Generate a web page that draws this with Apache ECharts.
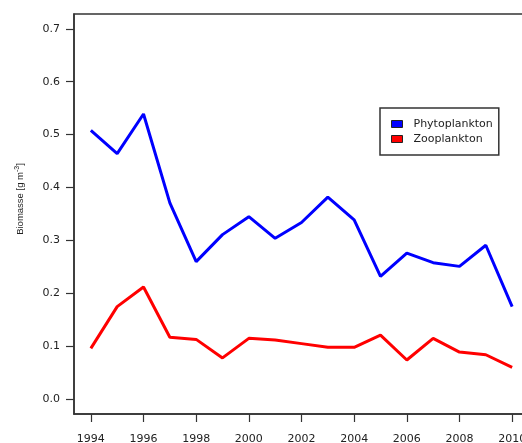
<!DOCTYPE html>
<html>
<head>
<meta charset="utf-8">
<script src="https://cdn.jsdelivr.net/npm/echarts@6/dist/echarts.min.js"></script>
<style>
  html, body { margin: 0; padding: 0; background: #fff; }
  #chart { width: 522px; height: 443px; }
</style>
</head>
<body>
<div id="chart"></div>
<script>
var years = [1994, 1995, 1996, 1997, 1998, 1999, 2000, 2001, 2002, 2003, 2004, 2005, 2006, 2007, 2008, 2009, 2010];
var phyto = [0.508, 0.464, 0.539, 0.371, 0.260, 0.311, 0.345, 0.304, 0.334, 0.382, 0.339, 0.232, 0.276, 0.258, 0.251, 0.291, 0.175];
var zoo = [0.096, 0.175, 0.212, 0.117, 0.113, 0.078, 0.115, 0.112, 0.105, 0.098, 0.098, 0.121, 0.074, 0.115, 0.089, 0.084, 0.060];
var xTicks = [1994, 1996, 1998, 2000, 2002, 2004, 2006, 2008, 2010];
var yTicks = [0, 0.1, 0.2, 0.3, 0.4, 0.5, 0.6, 0.7];

var font = 'DejaVu Sans, sans-serif';
var titleFont = 'Liberation Sans, Arial, sans-serif';

function pairs(vals) {
    return years.map(function (y, i) { return [y, vals[i]]; });
}

var chart = echarts.init(document.getElementById('chart'));
chart.setOption({
    animation: false,
    grid: {
        left: 74, top: 14, width: 455, height: 400,
        outerBoundsMode: 'none',
        containLabel: false,
        show: true, borderColor: '#333', borderWidth: 1.5, backgroundColor: 'transparent'
    },
    // y title placed by hand, it sits a bit above the plot centre in the original
    graphic: [{
        type: 'text',
        x: 20, y: 199,
        rotation: Math.PI / 2,
        style: {
            text: '{a|Biomasse [g m}{b|-3}{a|]}',
            align: 'center', verticalAlign: 'middle',
            rich: {
                a: { fontFamily: titleFont, fontSize: 9.5, fill: '#222', lineHeight: 13 },
                b: { fontFamily: titleFont, fontSize: 7, fill: '#222', verticalAlign: 'top', lineHeight: 9 }
            }
        }
    }],
    legend: {
        orient: 'vertical',
        left: 380, top: 108,
        padding: [10, 6, 10, 11],
        itemWidth: 11, itemHeight: 7,
        itemGap: 3,
        icon: 'rect',
        backgroundColor: '#fff',
        borderColor: '#333', borderWidth: 1.5,
        itemStyle: { borderColor: '#222', borderWidth: 1 },
        textStyle: { fontFamily: font, fontSize: 11, color: '#222', padding: [0, 0, 0, 6], lineHeight: 12 },
        data: ['Phytoplankton', 'Zooplankton']
    },
    xAxis: {
        type: 'value',
        min: 1993.36, max: 2010.64,
        splitLine: { show: false },
        axisLine: { show: true, onZero: false, lineStyle: { color: '#333', width: 1.5 } },
        axisTick: { show: true, length: 8, customValues: xTicks, lineStyle: { color: '#333', width: 1.2 } },
        axisLabel: {
            customValues: xTicks, margin: 20,
            fontFamily: font, fontSize: 11, color: '#222',
            formatter: function (v) { return String(v); }
        }
    },
    yAxis: {
        type: 'value',
        min: -0.028, max: 0.728,
        splitLine: { show: false },
        axisLine: { show: true, onZero: false, lineStyle: { color: '#333', width: 1.5 } },
        axisTick: { show: true, length: 8, customValues: yTicks, lineStyle: { color: '#333', width: 1.2 } },
        axisLabel: {
            customValues: yTicks, margin: 14,
            fontFamily: font, fontSize: 11, color: '#222',
            formatter: function (v) { return v.toFixed(1); }
        }
    },
    series: [
        {
            name: 'Phytoplankton', type: 'line', data: pairs(phyto),
            showSymbol: false, color: '#0000ff',
            lineStyle: { color: '#0000ff', width: 3 }
        },
        {
            name: 'Zooplankton', type: 'line', data: pairs(zoo),
            showSymbol: false, color: '#ff0000',
            lineStyle: { color: '#ff0000', width: 3 }
        }
    ]
});
</script>
</body>
</html>
